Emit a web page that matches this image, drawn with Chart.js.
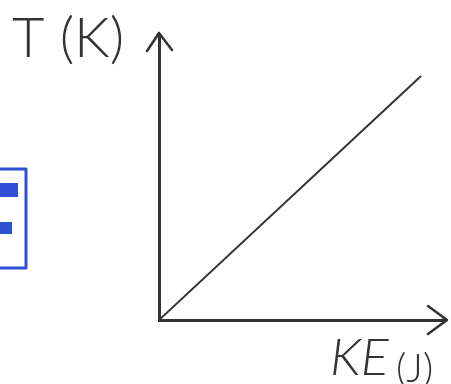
<!DOCTYPE html>
<html>
<head>
<meta charset="utf-8">
<script src="https://cdn.jsdelivr.net/npm/chart.js@4"></script>
<style>
  html, body { margin: 0; padding: 0; background: #fff; }
  #wrap { width: 451px; height: 384px; }
</style>
</head>
<body>
<div id="wrap"><canvas id="myChart"></canvas></div>
<script>
// kinetic energy vs temperature, straight line through the origin
const keValues = [0, 10];
const tempValues = [0, 10];
const xLabel = 'KE';
const xUnit = '(J)';
const yLabel = 'T (K)';

const ink = '#333333';

// arrows on the axes + hand-written style labels
const sketchPlugin = {
    id: 'sketch',
    afterDraw(chart) {
        const c = chart.ctx;
        const a = chart.chartArea;
        c.save();
        c.strokeStyle = ink;
        c.lineWidth = 2.5;
        c.lineCap = 'round';
        c.lineJoin = 'round';

        // y arrow
        c.beginPath();
        c.moveTo(a.left, a.top);
        c.lineTo(a.left, a.top - 4);
        c.moveTo(a.left - 12, a.top + 14);
        c.lineTo(a.left, a.top - 4);
        c.lineTo(a.left + 13, a.top + 13);
        c.stroke();

        // x arrow
        c.beginPath();
        c.moveTo(a.right, a.bottom);
        c.lineTo(a.right + 5, a.bottom);
        c.moveTo(a.right - 14, a.bottom - 14);
        c.lineTo(a.right + 5, a.bottom);
        c.lineTo(a.right - 14, a.bottom + 14);
        c.stroke();

        // labels
        c.fillStyle = ink;
        c.textBaseline = 'alphabetic';
        c.font = '300 56px Lato';
        c.fillText(yLabel, 12, 57);
        c.font = 'italic 300 52px Lato';
        c.fillText(xLabel, 330, 375);
        c.font = '300 40px Lato';
        c.fillText(xUnit, 396, 382);

        // blue box fragment on the left edge
        c.strokeStyle = '#2f4fd6';
        c.lineWidth = 3;
        c.strokeRect(-10, 169, 36, 99);
        c.fillStyle = '#2f4fd6';
        c.fillRect(0, 183, 18, 14);
        c.fillRect(0, 222, 12, 12);
        c.restore();
    }
};

const ctx = document.getElementById('myChart').getContext('2d');

const myChart = new Chart(ctx, {
    type: 'scatter',
    data: {
        datasets: [
            {
                data: keValues.map((v, i) => ({ x: v, y: tempValues[i] })),
                showLine: true,
                borderColor: ink,
                borderWidth: 2,
                pointRadius: 0,
            }
        ]
    },
    options: {
        responsive: true,
        maintainAspectRatio: false,
        animation: false,
        layout: {
            padding: { left: 159, top: 37, right: 9, bottom: 64 }
        },
        scales: {
            x: {
                min: 0,
                max: 10.8,
                ticks: { display: false },
                grid: { display: false, drawTicks: false },
                border: { display: true, color: ink, width: 3 }
            },
            y: {
                min: 0,
                max: 11.6,
                ticks: { display: false },
                grid: { display: false, drawTicks: false },
                border: { display: true, color: ink, width: 3 }
            }
        },
        plugins: {
            legend: { display: false },
            tooltip: { enabled: false }
        }
    },
    plugins: [sketchPlugin]
});
</script>
</body>
</html>
